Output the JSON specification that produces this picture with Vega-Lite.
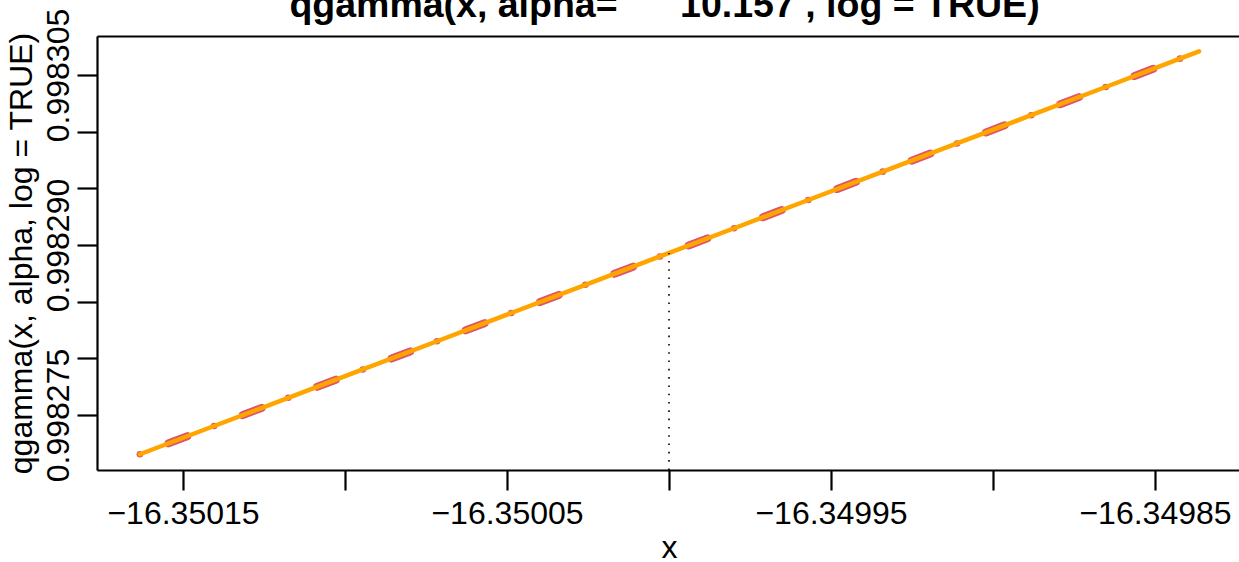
{
  "$schema": "https://vega.github.io/schema/vega-lite/v6.json",
  "width": 1142,
  "height": 434,
  "autosize": {"type": "none"},
  "padding": {"left": 97, "top": 36, "right": 0, "bottom": 92},
  "background": "white",
  "config": {
    "view": {"stroke": null},
    "font": "Liberation Sans",
    "axis": {
      "domainColor": "black",
      "domainWidth": 2.2,
      "tickColor": "black",
      "tickWidth": 2.2,
      "tickSize": 20,
      "labelColor": "black",
      "labelFont": "Liberation Sans",
      "labelFontSize": 32,
      "titleFont": "Liberation Sans",
      "titleFontSize": 32,
      "titleFontWeight": "normal",
      "titleColor": "black",
      "grid": false,
      "labelOverlap": false,
      "labelFlush": false,
      "labelBound": false
    }
  },
  "datasets": {
    "curve": [
      {"x": -16.3501633, "y": 0.99827154},
      {"x": -16.3501404, "y": 0.99827403},
      {"x": -16.3501175, "y": 0.99827652},
      {"x": -16.3500945, "y": 0.99827902},
      {"x": -16.3500716, "y": 0.99828151},
      {"x": -16.3500487, "y": 0.99828400},
      {"x": -16.3500258, "y": 0.99828649},
      {"x": -16.3500028, "y": 0.99828899},
      {"x": -16.3499799, "y": 0.99829148},
      {"x": -16.3499570, "y": 0.99829397},
      {"x": -16.3499340, "y": 0.99829647},
      {"x": -16.3499111, "y": 0.99829896},
      {"x": -16.3498882, "y": 0.99830145},
      {"x": -16.3498652, "y": 0.99830394},
      {"x": -16.3498423, "y": 0.99830644},
      {"x": -16.3498364, "y": 0.99830708}
    ],
    "pts": [
      {"x": -16.3501633, "y": 0.99827154},
      {"x": -16.3501404, "y": 0.99827403},
      {"x": -16.3501175, "y": 0.99827652},
      {"x": -16.3500945, "y": 0.99827902},
      {"x": -16.3500716, "y": 0.99828151},
      {"x": -16.3500487, "y": 0.99828400},
      {"x": -16.3500258, "y": 0.99828649},
      {"x": -16.3500028, "y": 0.99828899},
      {"x": -16.3499799, "y": 0.99829148},
      {"x": -16.3499570, "y": 0.99829397},
      {"x": -16.3499340, "y": 0.99829647},
      {"x": -16.3499111, "y": 0.99829896},
      {"x": -16.3498882, "y": 0.99830145},
      {"x": -16.3498652, "y": 0.99830394},
      {"x": -16.3498423, "y": 0.99830644}
    ],
    "mark": [
      {"x": -16.35, "y": 0.99827015, "y2": 0.9982893}
    ]
  },
  "layer": [
    {
      "data": {"name": "curve"},
      "mark": {"type": "line", "color": "#DF536B", "strokeWidth": 8, "strokeDash": [20, 59.5], "strokeDashOffset": 48.8, "strokeCap": "round"},
      "encoding": {
        "x": {
          "field": "x", "type": "quantitative",
          "scale": {"domain": [-16.35017654, -16.34982407], "nice": false, "zero": false},
          "axis": {
            "orient": "bottom",
            "values": [-16.35015, -16.3501, -16.35005, -16.35, -16.34995, -16.3499, -16.34985],
            "labelExpr": "round(datum.value*100000) % 10 != 0 ? format(datum.value, '.5f') : ''",
            "labelAngle": 0,
            "labelAlign": "center",
            "labelBaseline": "alphabetic",
            "labelPadding": 33,
            "title": "x",
            "titleX": 572,
            "titleY": 87,
            "titleAlign": "center",
            "titleBaseline": "alphabetic",
            "titleAnchor": null
          }
        },
        "y": {
          "field": "y", "type": "quantitative",
          "scale": {"domain": [0.99827015, 0.998308439], "nice": false, "zero": false},
          "axis": {
            "values": [0.998275, 0.99828, 0.998285, 0.99829, 0.998295, 0.9983, 0.998305],
            "labelExpr": "(round(datum.value*1000000) - 998275) % 15 == 0 ? format(datum.value, '.6f') : ''",
            "labelAngle": 270,
            "labelAlign": "center",
            "labelBaseline": "alphabetic",
            "labelPadding": 9,
            "title": "qgamma(x, alpha, log = TRUE)",
            "titleAngle": 270,
            "titleX": -65.5,
            "titleY": 217,
            "titleAlign": "center",
            "titleBaseline": "alphabetic",
            "titleAnchor": null
          }
        }
      }
    },
    {
      "data": {"name": "pts"},
      "mark": {"type": "circle", "color": "#DF536B", "size": 44, "opacity": 1},
      "encoding": {
        "x": {"field": "x", "type": "quantitative", "axis": null},
        "y": {"field": "y", "type": "quantitative", "title": "qgamma(x, alpha, log = TRUE)"}
      }
    },
    {
      "data": {"name": "curve"},
      "mark": {"type": "line", "color": "#FFA500", "strokeWidth": 4.5, "strokeCap": "round"},
      "encoding": {
        "x": {
          "field": "x", "type": "quantitative",
          "axis": {
            "orient": "top", "labels": false, "ticks": false, "domain": true,
            "title": "qgamma(x, alpha=\u00a0\u00a0\u00a0\u00a0\u00a0\u00a010.157 , log = TRUE)",
            "titleFontSize": 37.5,
            "titleFontWeight": "bold",
            "titleX": 567,
            "titleY": -20,
            "titleAlign": "center",
            "titleBaseline": "alphabetic",
            "titleAnchor": null
          }
        },
        "y": {"field": "y", "type": "quantitative", "title": "qgamma(x, alpha, log = TRUE)"}
      }
    },
    {
      "data": {"name": "mark"},
      "mark": {"type": "rule", "color": "black", "strokeWidth": 1.6, "strokeDash": [1.6, 6.7]},
      "encoding": {
        "x": {"field": "x", "type": "quantitative", "axis": null},
        "y": {"field": "y", "type": "quantitative", "title": "qgamma(x, alpha, log = TRUE)"},
        "y2": {"field": "y2"}
      }
    }
  ],
  "resolve": {"axis": {"x": "independent"}}
}
